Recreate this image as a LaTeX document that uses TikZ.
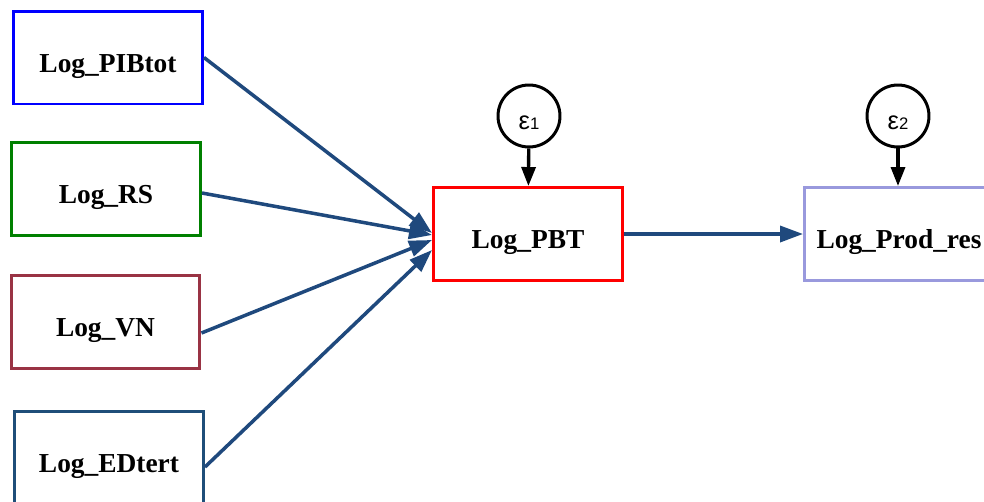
\documentclass[tikz,border=0pt]{standalone}
\usepackage{fontspec}
\setmainfont{Liberation Serif}
\newfontfamily\epsfont{Liberation Sans}
\usepackage{xcolor}
\usepackage{tikz}
\usetikzlibrary{arrows.meta,positioning,calc}
\definecolor{vnred}{RGB}{153,51,68}
\definecolor{edblue}{RGB}{31,78,121}
\definecolor{prodlav}{RGB}{153,153,221}
\definecolor{arrblue}{RGB}{31,73,125}
\begin{document}
\begin{tikzpicture}[
  x=0.02cm, y=-0.02cm,
  var/.style={draw, line width=1.7pt, align=center, inner sep=0pt,
    minimum width=3.78cm, minimum height=1.86cm,
    text height=0.98cm, text depth=0.4cm,
    font=\fontsize{15.6}{18}\selectfont\bfseries},
  err/.style={draw, circle, line width=1.7pt, inner sep=0pt,
    minimum size=1.24cm, text height=0.82cm, text depth=0.3cm,
    font=\epsfont\fontsize{14.5}{16}\selectfont},
  arr/.style={-{Triangle[length=0.46cm, width=0.32cm]}, line width=2pt, arrblue},
  earr/.style={-{Triangle[length=0.38cm, width=0.28cm]}, line width=1.9pt, black}
]
\clip (0,0) rectangle (984,501);
\node[var, blue] at (108,57.5) (pibtot) {\textcolor{black}{Log\_PIBtot}};
\node[var, green!50!black] at (106,189) (rs) {\textcolor{black}{Log\_RS}};
\node[var, vnred] at (105.5,322) (vn) {\textcolor{black}{Log\_VN}};
\node[var, edblue] at (109,458) (edtert) {\textcolor{black}{Log\_EDtert}};
\node[var, red] at (528,234) (pbt) {\textcolor{black}{Log\_PBT}};
\node[var, prodlav] at (899,234) (prod) {\textcolor{black}{Log\_Prod\_res}};
\node[err] at (529,116) (e1) {ε{\fontsize{9.5}{10}\selectfont 1}};
\node[err] at (898,116) (e2) {ε{\fontsize{9.5}{10}\selectfont 2}};
\draw[arr] (pibtot.east) -- ($(pbt.west)+(0,-1)$);
\draw[arr] ($(rs.east)+(0,4)$) -- ($(pbt.west)+(0,1)$);
\draw[arr] ($(vn.east)+(0,11)$) -- ($(pbt.west)+(0,6)$);
\draw[arr] ($(edtert.east)+(0,9)$) -- ($(pbt.west)+(0,16)$);
\draw[arr] (pbt.east) -- (prod.west);
\draw[earr] (e1) -- (pbt);
\draw[earr] (e2) -- (e2 |- prod.north);
\end{tikzpicture}
\end{document}
